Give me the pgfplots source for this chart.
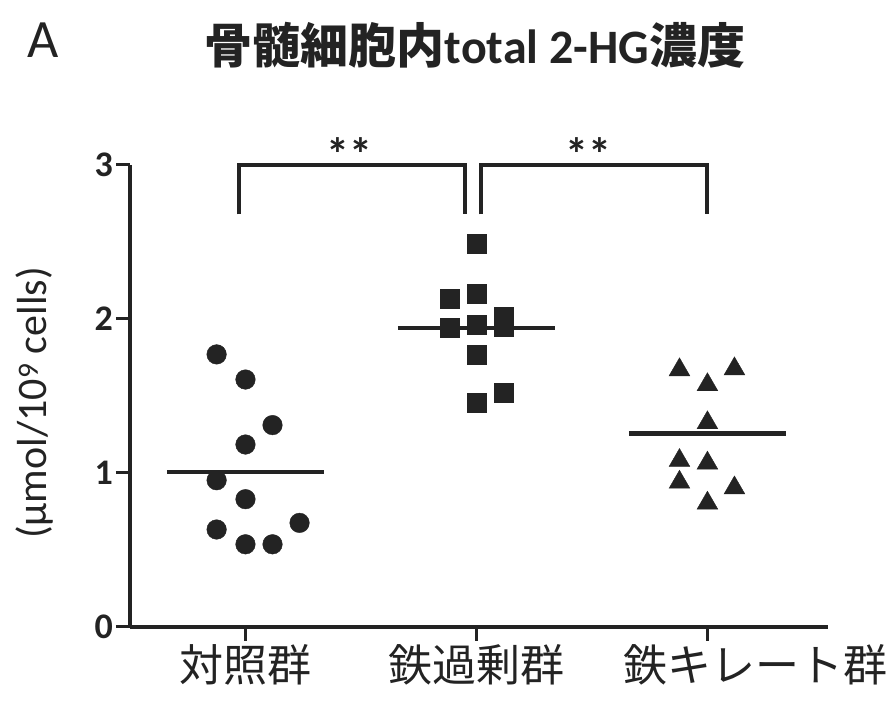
\documentclass[border=0pt]{standalone}
\usepackage{pgfplots}
\pgfplotsset{compat=1.18}
\usepackage{fontspec}
\setmainfont{Carlito}
\newfontfamily\cjk{Noto Sans CJK JP}
\definecolor{ink}{RGB}{35,35,35}

\pgfplotstableread{
x y
-0.125 1.770
0 1.607
0.117 1.311
0 1.185
-0.125 0.953
0 0.830
0.234 0.676
-0.125 0.633
0 0.537
0.117 0.537
}\control
\pgfplotstableread{
x y
1 2.487
1 2.166
0.883 2.134
1.117 2.014
1.117 1.949
0.883 1.943
1 1.960
1 1.765
1.117 1.523
1 1.456
}\ironover
\pgfplotstableread{
x y
1.879 1.670
2.117 1.676
2 1.573
2 1.326
1.879 1.081
2 1.064
1.879 0.940
2.117 0.903
2 0.804
}\chelate

\begin{document}
\begin{tikzpicture}
\path[use as bounding box] (-130pt,-81pt) rectangle (759pt,627pt);
\begin{axis}[
  at={(0,0)}, anchor=south west,
  scale only axis, width=698pt, height=462pt,
  xmin=-0.5, xmax=2.522, ymin=0, ymax=3,
  clip=false,
  axis x line=bottom, axis y line=left,
  axis line style={-, line width=3.2pt, ink},
  xtick={0,1,2},
  xticklabels={対照群,鉄過剰群,\hspace*{96pt}鉄キレート群},
  ytick={0,1,2,3},
  yticklabels={0,1,2,3},
  tick align=outside,
  major tick length=14pt,
  tick style={line width=3pt, ink},
  yticklabel style={font=\fontsize{36}{38}\selectfont\bfseries, text=ink, inner sep=3pt},
  xticklabel style={font=\cjk\fontsize{44}{48}\selectfont, text=ink},
  ylabel={(µmol/10\textsuperscript{9} cells)},
  every axis y label/.style={at={(axis description cs:0,0.485)}, xshift=-95pt, rotate=90, anchor=center, font=\fontsize{42}{44}\selectfont, text=ink},
]
\addplot[only marks, mark=*, mark size=9.8pt, color=ink, mark options={draw=none, fill=ink}] table[x=x,y=y] {\control};
\addplot[only marks, mark=square*, mark size=9.5pt, color=ink, mark options={draw=none, fill=ink}] table[x=x,y=y] {\ironover};
\addplot[only marks, mark=triangle*, mark size=12pt, color=ink, mark options={draw=none, fill=ink}] table[x=x,y=y] {\chelate};
% means
\addplot[line width=4.5pt, ink, no marks] coordinates {(-0.34,1.007) (0.34,1.007)};
\addplot[line width=4.5pt, ink, no marks] coordinates {(0.66,1.943) (1.34,1.943)};
\addplot[line width=4.5pt, ink, no marks] coordinates {(1.66,1.257) (2.34,1.257)};
% brackets
\addplot[line width=4pt, ink, no marks, sharp plot] coordinates {(-0.03,2.68) (-0.03,3.0) (0.95,3.0) (0.95,2.68)};
\addplot[line width=4pt, ink, no marks, sharp plot] coordinates {(1.02,2.68) (1.02,3.0) (2.0,3.0) (2.0,2.68)};
\node[font=\fontsize{46}{48}\selectfont\bfseries, text=ink, anchor=base] at (axis cs:0.45,2.965) {**};
\node[font=\fontsize{46}{48}\selectfont\bfseries, text=ink, anchor=base] at (axis cs:1.485,2.965) {**};
\end{axis}
\node[font=\fontsize{54}{58}\selectfont, text=ink] at (-87pt,587pt) {A};
\node[font=\fontsize{48}{52}\selectfont\bfseries, text=ink] at (345pt,582pt) {{\cjk 骨髄細胞内}total 2-HG{\cjk 濃度}};
\end{tikzpicture}
\end{document}
